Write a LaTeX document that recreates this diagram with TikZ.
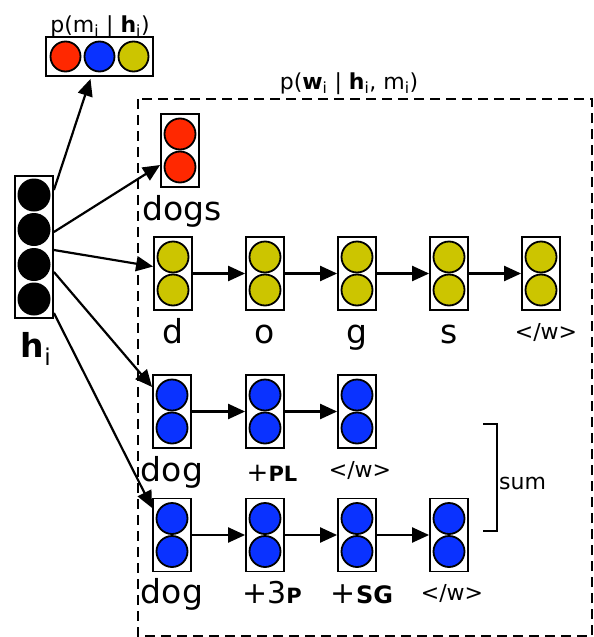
\documentclass[tikz,border=0pt]{standalone}
\usepackage{fontspec}
\setmainfont{DejaVu Sans}
\usetikzlibrary{calc,arrows.meta}

\definecolor{ballred}{RGB}{255,40,0}
\definecolor{ballblue}{RGB}{10,50,255}
\definecolor{ballyellow}{RGB}{204,197,0}

\tikzset{
  cell/.style={draw,line width=1.8pt,fill=white,minimum width=38pt,minimum height=73pt,inner sep=0pt},
  ball/.style={draw,line width=1.8pt},
  link/.style={line width=2.2pt,-{Triangle[length=17pt,width=15pt]}},
  big/.style={anchor=base,inner sep=0pt,font=\fontsize{33}{36}\selectfont},
  small/.style={anchor=base,inner sep=0pt,font=\fontsize{22}{26}\selectfont}
}

% two-ball cell: name, x, y, colour
\newcommand\cellbox[4]{%
  \node[cell] (#1) at (#2,#3) {};
  \draw[ball,fill=#4] ([yshift=16.5pt]#1.center) circle (15.5pt);
  \draw[ball,fill=#4] ([yshift=-16.5pt]#1.center) circle (15.5pt);
}

\begin{document}
\begin{tikzpicture}[x=1pt,y=-1pt]
  \useasboundingbox (0,0) rectangle (594,637);

  % dashed frame for p(w | h, m)
  \draw[line width=2pt,dash pattern=on 10pt off 6pt] (138,99) rectangle (592,636);
  \node[small] (pwlbl) at (349,89) {p(\textbf{w}\textsubscript{i} | \textbf{h}\textsubscript{i}, m\textsubscript{i})};

  % hidden state
  \node[cell,minimum height=142pt] (h) at (34,247) {};
  \foreach \dy in {52,17.5,-17.5,-52}
    \fill[black] ([yshift=\dy pt]h.center) circle (16.5pt);
  \node[big] (hlbl) at (36,357) {\textbf{h}\textsubscript{i}};

  % morpheme distribution
  \node[cell,minimum width=107pt,minimum height=39pt] (pm) at (99.5,56.5) {};
  \draw[ball,fill=ballred] ([xshift=-34pt]pm.center) circle (15pt);
  \draw[ball,fill=ballblue] (pm.center) circle (15pt);
  \draw[ball,fill=ballyellow] ([xshift=34pt]pm.center) circle (15pt);
  \node[small] (pmlbl) at (100,32) {p(m\textsubscript{i} | \textbf{h}\textsubscript{i})};

  % word level
  \cellbox{dogs}{180}{150.5}{ballred}
  \node[big] (dogslbl) at (182,220) {dogs};

  % character level
  \cellbox{yd}{173}{273.5}{ballyellow}
  \cellbox{yo}{265}{273.5}{ballyellow}
  \cellbox{yg}{357}{273.5}{ballyellow}
  \cellbox{ys}{449}{273.5}{ballyellow}
  \cellbox{yend}{541}{273.5}{ballyellow}
  \node[big] (ydl) at (173,343) {d};
  \node[big] (yol) at (265,343) {o};
  \node[big] (ygl) at (357,343) {g};
  \node[big] (ysl) at (449,343) {s};
  \node[small] (yendl) at (546,339) {</w>};
  \draw[link] (yd) -- (yo);
  \draw[link] (yo) -- (yg);
  \draw[link] (yg) -- (ys);
  \draw[link] (ys) -- (yend);

  % morpheme level, first analysis
  \cellbox{pdog}{172}{411.5}{ballblue}
  \cellbox{ppl}{265}{411.5}{ballblue}
  \cellbox{pend}{357}{411.5}{ballblue}
  \node[big] (pdogl) at (172,481) {dog};
  \node[anchor=base,inner sep=0pt] (ppll) at (272,481) {\fontsize{26}{30}\selectfont+\fontsize{21}{24}\selectfont\textbf{PL}};
  \node[small] (pendl) at (360,477) {</w>};
  \draw[link] (pdog) -- (ppl);
  \draw[link] (ppl) -- (pend);

  % morpheme level, second analysis
  \cellbox{qdog}{172}{535}{ballblue}
  \cellbox{q3p}{265}{535}{ballblue}
  \cellbox{qsg}{357}{535}{ballblue}
  \cellbox{qend}{449}{535}{ballblue}
  \node[big] (qdogl) at (172,603) {dog};
  \node[anchor=base,inner sep=0pt] (q3pl) at (272,603) {\fontsize{30}{34}\selectfont+3\fontsize{21}{24}\selectfont\textbf{P}};
  \node[anchor=base,inner sep=0pt] (qsgl) at (362,603) {\fontsize{30}{34}\selectfont+\fontsize{24}{28}\selectfont\textbf{SG}};
  \node[small] (qendl) at (452,600) {</w>};
  \draw[link] (qdog) -- (q3p);
  \draw[link] (q3p) -- (qsg);
  \draw[link] (qsg) -- (qend);

  % sum over analyses
  \draw[line width=2.4pt] (483,424) -- (497,424) -- (497,531) -- (483,531);
  \node[small,anchor=west] (sumlbl) at (499,483) {sum};

  % from the hidden state
  \draw[link] ([yshift=57pt]h.east) -- ([xshift=-9pt,yshift=-2pt]pm.south);
  \draw[link] ([yshift=15pt]h.east) -- ([yshift=-14.5pt]dogs.west);
  \draw[link] ([yshift=-3pt]h.east) -- ([yshift=7pt]yd.west);
  \draw[link] ([yshift=-25pt]h.east) -- ([yshift=24.5pt]pdog.west);
  \draw[link] ([yshift=-66pt]h.east) -- ([yshift=27pt]qdog.west);
\end{tikzpicture}
\end{document}
